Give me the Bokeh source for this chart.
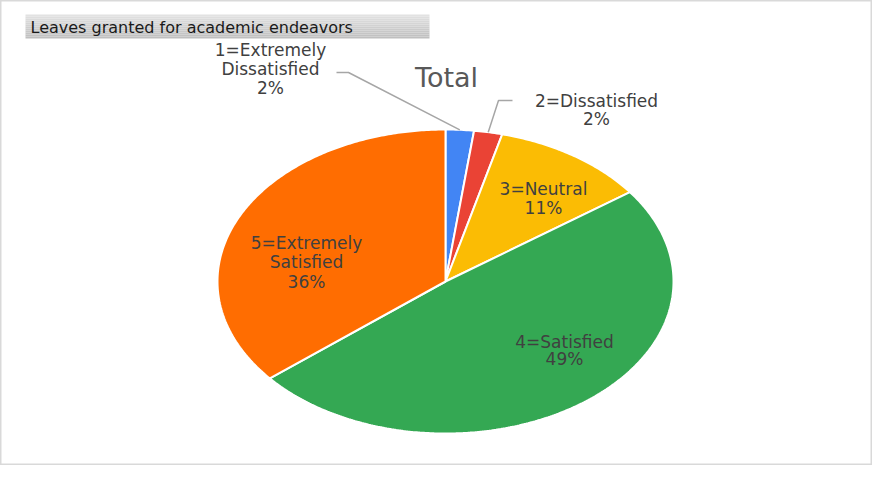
import numpy as np
from bokeh.plotting import figure
from bokeh.models import Range1d
from bokeh.core.properties import value
from bokeh.embed import file_html
from bokeh.resources import INLINE

# ---- data ----
categories = ["1=Extremely Dissatisfied", "2=Dissatisfied", "3=Neutral",
              "4=Satisfied", "5=Extremely Satisfied"]
label_lines = [["1=Extremely", "Dissatisfied"], ["2=Dissatisfied"], ["3=Neutral"],
               ["4=Satisfied"], ["5=Extremely", "Satisfied"]]
percents = [2, 2, 11, 49, 36]
colors = ["#4285F4", "#EA4335", "#FBBC04", "#34A853", "#FF6D01"]
chart_title = "Total"
header_text = "Leaves granted for academic endeavors"

# ---- layout (pixel coordinates) ----
W, H = 872, 465
OFF = 0
FONT = "DejaVu Sans"
LABEL_COLOR = "#404040"

p = figure(width=W, height=H, x_range=Range1d(0, W), y_range=Range1d(H, 0),
           output_backend="svg", toolbar_location=None, min_border=0,
           x_axis_location=None, y_axis_location=None)
p.grid.visible = False
p.outline_line_color = "#d9d9d9"
p.outline_line_width = 2
p.background_fill_color = "white"
p.border_fill_color = "white"

# header bar with vertical gradient
bx0, bx1, by0, by1 = 25 - OFF, 429 - OFF, 14 - OFF, 38 - OFF
n = 12
c0 = np.array([0xe2, 0xe2, 0xe2]); c1 = np.array([0xbf, 0xbf, 0xbf])
tops, bots, cols = [], [], []
for i in range(n):
    f = i / (n - 1)
    c = (c0 + (c1 - c0) * f).astype(int)
    tops.append(by0 + (by1 - by0) * i / n)
    bots.append(by0 + (by1 - by0) * (i + 1) / n)
    cols.append("#%02x%02x%02x" % tuple(c))
p.quad(left=bx0, right=bx1, top=tops, bottom=bots, fill_color=cols, line_color=None)
p.text(x=[30 - OFF], y=[(by0 + by1) / 2 + 1], text=[header_text], text_font=value(FONT),
       text_font_size="16px", text_color="#1a1a1a", text_baseline="middle", text_align="left")

# chart title
p.text(x=[446 - OFF], y=[77 - OFF], text=[chart_title], text_font=value(FONT),
       text_font_size="27px", text_color="#595959", text_baseline="alphabetic", text_align="center")

# pie (elliptical)
cx, cy, rx, ry = 445 - OFF, 281 - OFF, 228, 152
fr = np.array(percents, dtype=float) / sum(percents)
cum = np.concatenate([[0.0], np.cumsum(fr)])
xs, ys = [], []
for a0, a1 in zip(cum[:-1], cum[1:]):
    t = np.linspace(a0, a1, max(int((a1 - a0) * 600), 6)) * 2 * np.pi
    xs.append([cx] + list(cx + rx * np.sin(t)))
    ys.append([cy] + list(cy - ry * np.cos(t)))
p.patches(xs, ys, fill_color=colors, line_color="white", line_width=2)

# leader lines for small slices
mid = (cum[:-1] + cum[1:]) / 2 * 2 * np.pi
lead = {0: [(348 - OFF, 72 - OFF), (336 - OFF, 72 - OFF)],
        1: [(498 - OFF, 100 - OFF), (512 - OFF, 100 - OFF)]}
for i, pts in lead.items():
    ex = cx + rx * np.sin(mid[i]); ey = cy - ry * np.cos(mid[i])
    p.line([ex] + [q[0] for q in pts], [ey] + [q[1] for q in pts],
           line_color="#a6a6a6", line_width=1.5)

# labels: (center x, first line y, line step)
label_pos = [(270, 49, 19), (596, 100, 18), (543, 188, 19), (564, 341, 17), (306, 242, 19.5)]
for i, (lx, ly, step) in enumerate(label_pos):
    lines = label_lines[i] + ["%d%%" % percents[i]]
    p.text(x=[lx - OFF] * len(lines), y=[ly - OFF + k * step for k in range(len(lines))],
           text=lines, text_font=value(FONT), text_font_size="17px", text_color=LABEL_COLOR,
           text_baseline="middle", text_align="center")

open("out.html", "w").write(file_html(p, INLINE))
